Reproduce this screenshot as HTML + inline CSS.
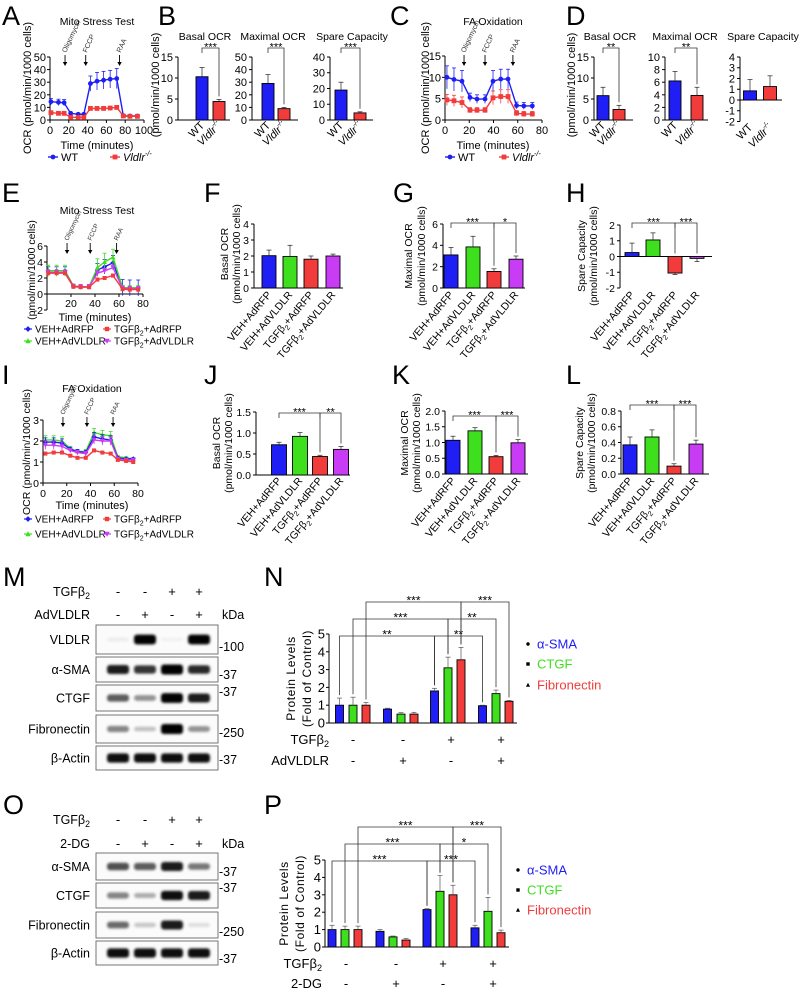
<!DOCTYPE html>
<html><head><meta charset="utf-8"><style>
body{margin:0;background:#fff}
svg{display:block;font-family:"Liberation Sans",Arial,sans-serif}
</style></head><body>
<svg id="fig" width="800" height="991" viewBox="0 0 800 991" xmlns="http://www.w3.org/2000/svg">
<defs><filter id="blur" x="-30%" y="-60%" width="160%" height="220%"><feGaussianBlur stdDeviation="1.4"/></filter></defs>
<rect x="0" y="0" width="800" height="991" fill="#fff"/>
</svg>
<script>
// ---------- DATA ----------
const aTimes=[1,9,15,22,30,36,43,50,57,64,71,78,85,93];
const aWT=[14.5,14,13.7,5.3,4.5,4.5,28.9,30.8,31.6,32.4,32.9,3.4,3.2,3.2];
const aWTErr=[2.5,2.5,2.5,1,1,1,6,7,7,7,8,1,1,1];
const aKO=[5.8,5.3,5.3,2.1,2.1,2.1,9.2,9.2,9.2,9.5,10,3.2,2.9,2.9];
const aKOErr=[0.8,0.5,0.5,0.4,0.4,0.4,0.8,0.8,0.8,0.8,1,0.5,0.5,0.5];
const aInject=[16,38,74];
const injNames=['Oligomycin','FCCP','RAA'];
const cTimes=[1.6,7.4,14,20.6,26.4,33,39.6,46,52,59,65,72];
const cWT=[10,9.5,9.1,5.3,4.9,4.9,9.1,9.6,9.6,3.4,3.3,3.3];
const cWTErr=[2.7,2.7,2.5,1,1,1,2.5,2.3,2.3,0.8,0.8,0.8];
const cKO=[4.7,4.5,4.1,2.3,2.3,2.3,5.2,5.5,5.5,1.6,1.4,1.4];
const cKOErr=[1.3,1.3,1.3,0.6,0.6,0.6,1.6,1.6,1.6,0.6,0.6,0.6];
const cInject=[15.7,33,56];
const eTimes=[1,8,15,22,28,35,42,48,55,63,69,76];
const eVehRFP=[2.9,2.9,2.9,1.0,0.9,0.9,3.0,3.4,3.9,0.8,0.75,0.75];
const eVehVLDLR=[2.9,2.9,2.9,1.0,0.9,0.9,3.3,4.0,4.6,0.8,0.75,0.75];
const eTgfRFP=[2.6,2.6,2.6,0.9,0.85,0.85,1.8,2.0,2.3,0.6,0.55,0.55];
const eTgfVLDLR=[2.7,2.7,2.7,0.95,0.9,0.9,2.6,2.9,3.3,0.7,0.65,0.65];
const eErrBlue=[0.5,0.5,0.5,0.2,0.2,0.2,0.8,0.9,0.9,1.0,1.0,1.0];
const eErrGreen=[0.7,0.7,0.7,0.2,0.2,0.2,1.1,1.1,1.0,0.3,0.3,0.3];
const eInject=[16.7,36,58];
const iTimes=[2,9,16,23,29,36,43,50,57,63,70,76];
const iVehRFP=[1.95,1.95,1.9,1.6,1.5,1.45,2.2,2.1,2.05,1.2,1.15,1.15];
const iVehVLDLR=[2.05,2.05,2.0,1.65,1.5,1.5,2.4,2.3,2.25,1.25,1.2,1.15];
const iTgfRFP=[1.4,1.45,1.45,1.3,1.2,1.2,1.55,1.45,1.4,1.1,1.05,1.0];
const iTgfVLDLR=[1.8,1.8,1.75,1.55,1.45,1.4,2.05,2.0,2.0,1.15,1.1,1.1];
const iErr=[0.2,0.2,0.2,0.1,0.1,0.1,0.2,0.2,0.2,0.05,0.05,0.05];
const iInject=[16.8,37,59];
const bBasal=[10.3,4.4], bBasalErr=[2.2,0.5];
const bMax=[29,9], bMaxErr=[7,1];
const bSpare=[19,4.5], bSpareErr=[5,0.7];
const dBasal=[5.8,2.5], dBasalErr=[2,1];
const dMax=[6.2,3.9], dMaxErr=[1.5,1.3];
const dSpare=[0.85,1.25], dSpareErr=[1.05,1.0];
const fVals=[2.02,1.97,1.8,2.0], fErr=[0.35,0.7,0.2,0.12];
const gVals=[3.1,3.85,1.55,2.7], gErr=[0.7,1.0,0.25,0.3];
const hVals=[0.25,1.05,-1.05,-0.12], hErr=[0.6,0.45,0.1,0.2];
const jVals=[0.72,0.92,0.44,0.61], jErr=[0.06,0.09,0.03,0.07];
const kVals=[1.07,1.37,0.55,0.99], kErr=[0.13,0.1,0.04,0.1];
const lVals=[0.37,0.47,0.1,0.38], lErr=[0.1,0.09,0.03,0.05];
const nSMA=[1.0,0.78,1.8,0.97], nSMAErr=[0.4,0.05,0.15,0.03];
const nCTGF=[1.0,0.5,3.1,1.65], nCTGFErr=[0.45,0.08,0.6,0.2];
const nFN=[1.0,0.5,3.55,1.22], nFNErr=[0.15,0.1,0.7,0.05];
const pSMA=[1.0,0.9,2.15,1.1], pSMAErr=[0.25,0.1,0.05,0.15];
const pCTGF=[1.0,0.58,3.2,2.05], pCTGFErr=[0.2,0.05,0.9,0.8];
const pFN=[1.0,0.4,3.0,0.82], pFNErr=[0.2,0.08,0.55,0.15];
const mVLDLR=[0.06,0.95,0.04,0.95], mSMA=[0.85,0.75,1.0,0.8], mCTGF=[0.6,0.4,0.95,0.85], mFN=[0.45,0.22,1.0,0.4], mActin=[0.9,0.9,0.9,0.9];
const oSMA=[0.65,0.6,0.85,0.5], oCTGF=[0.45,0.3,0.9,0.85], oFN=[0.55,0.2,0.85,0.12], oActin=[0.9,0.9,0.9,0.9];
const nTgf=['-','-','+','+'], nAdv=['-','+','-','+'], pDG=['-','+','-','+'];

// ---------- HELPERS ----------
const NS='http://www.w3.org/2000/svg';
const fig=document.getElementById('fig');
const BLUE='#1e1ef5', RED='#f23c3c', GREEN='#3ee01e', PURPLE='#c93cf5';
function mk(tag,p){const e=document.createElementNS(NS,tag);(p||fig).appendChild(e);return e;}
function set(e,o){for(const k in o)e.setAttribute(k,o[k]);return e;}
function group(name){const g=mk('g');
 
 
 return g;}
function ln(p,x1,y1,x2,y2,name,w,col){const e=set(mk('line',p),{x1:x1,y1:y1,x2:x2,y2:y2,stroke:col||'#000','stroke-width':w||1});
 
 
 return e;}
function rect(p,x,y,w,h,fill,name,stroke){const e=set(mk('rect',p),{x:x,y:y,width:w,height:h,fill:fill,stroke:stroke||'none','stroke-width':0.9});
 
 
 return e;}
function tx(p,x,y,s,size,anchor,name,rot){const e=set(mk('text',p),{x:x,y:y,'font-size':size,'text-anchor':anchor||'middle',fill:'#000'});
 e.innerHTML=s;
 if(rot)e.setAttribute('transform','rotate('+rot+' '+x+' '+y+')');
 
 
 return e;}
function marker(p,type,x,y,col,s,name){let e;
 if(type==='circle')e=set(mk('circle',p),{cx:x,cy:y,r:s,fill:col});
 else if(type==='square')e=set(mk('rect',p),{x:x-s,y:y-s,width:2*s,height:2*s,fill:col});
 else if(type==='diamond')e=set(mk('polygon',p),{points:x+','+(y-s*1.3)+' '+(x+s*1.3)+','+y+' '+x+','+(y+s*1.3)+' '+(x-s*1.3)+','+y,fill:col});
 else if(type==='tri')e=set(mk('polygon',p),{points:x+','+(y-s*1.3)+' '+(x+s*1.2)+','+(y+s)+' '+(x-s*1.2)+','+(y+s),fill:col});
 else e=set(mk('polygon',p),{points:x+','+(y+s*1.3)+' '+(x+s*1.2)+','+(y-s)+' '+(x-s*1.2)+','+(y-s),fill:col});
 
 
 return e;}
function bracket(p,x1,x2,y,b1,b2,stars,size){const e=set(mk('path',p),{d:'M'+x1+' '+b1+'V'+y+'H'+x2+'V'+b2,fill:'none',stroke:'#333','stroke-width':0.8});
 
 
 tx(p,(x1+x2)/2,y+2.5,stars,size||11,'middle','significance-stars');}
const T2='TGFβ<tspan font-size="70%" dy="3">2</tspan>';
const KOlab='<tspan font-style="italic">Vldlr</tspan><tspan font-style="italic" font-size="65%" dy="-5">-/-</tspan>';
const cats4=['VEH+AdRFP','VEH+AdVLDLR',T2+'<tspan dy="-3">+AdRFP</tspan>',T2+'<tspan dy="-3">+AdVLDLR</tspan>'];
const col4=[BLUE,GREEN,RED,PURPLE];

function barChart(c){
 const g=group(c.name);
 const Y=v=>c.yA+(v-c.vA)*(c.yB-c.yA)/(c.vB-c.vA);
 const bot=c.ticks[0], top=c.ticks[c.ticks.length-1];
 ln(g,c.ax,Y(bot),c.ax,Y(top),'y-axis-line');
 c.ticks.forEach(t=>{ln(g,c.ax-3,Y(t),c.ax,Y(t),'y-tick');
  tx(g,c.ax-5,Y(t)+c.ts*0.36,t.toFixed(c.dec),c.ts,'end','y-tick-label');});
 const base=Y(Math.max(bot,0));
 ln(g,c.ax,base,c.xEnd,base,'x-axis-line');
 c.vals.forEach((v,i)=>{
  const x=c.centers[i], y0=Y(0), y1=Y(v);
  rect(g,x-c.bw/2,Math.min(y0,y1),c.bw,Math.max(Math.abs(y1-y0),0.5),c.colors[i],'bar-'+i,'#000');
  const ye=Y(v+(v<0?-1:1)*c.errs[i]);
  ln(g,x,y1,x,ye,'error-bar',0.7,'#222');
  ln(g,x-2.5,ye,x+2.5,ye,'error-cap',0.7,'#222');
 });
 c.cats.forEach((s,i)=>{tx(g,c.centers[i]+3,c.catY,s,c.cs,'end','category-label',c.ang);});
 const legTop=i=>{const v=c.vals[i];return Y(v>0?v+c.errs[i]:0)-3;};
 (c.sig||[]).forEach(s=>bracket(g,c.centers[s[0]],c.centers[s[1]],s[2],Math.min(legTop(s[0]),s[2]+5),legTop(s[1]),s[3]));
 return g;
}
function lineChart(c){
 const g=group(c.name);
 const X=t=>c.x0+t*(c.x1-c.x0)/c.tMax;
 const Y=v=>c.yA+(v-c.vA)*(c.yB-c.yA)/(c.vB-c.vA);
 const yt=c.yTicks;
 ln(g,c.x0,Y(yt[0]),c.x0,Y(yt[yt.length-1]),'y-axis-line');
 yt.forEach(t=>{ln(g,c.x0-3,Y(t),c.x0,Y(t),'y-tick');
  tx(g,c.x0-4,Y(t)+c.ts*0.36,String(t),c.ts,'end','y-tick-label');});
 const xa=Y(c.xAxisV);
 ln(g,c.x0,xa,c.x1,xa,'x-axis-line');
 c.xTicks.forEach(t=>{ln(g,X(t),xa,X(t),xa+3,'x-tick');
  tx(g,X(t),c.xLabelY,String(t),c.ts,'middle','x-tick-label');});
 c.series.forEach(s=>{
  const sg=group('series-'+s.key);
  s.vals.forEach((v,i)=>{const x=X(c.times[i]);
   ln(sg,x,Y(v+s.errs[i]),x,Y(v-s.errs[i]),'error-bar',0.8,s.color);
   ln(sg,x-2,Y(v+s.errs[i]),x+2,Y(v+s.errs[i]),'error-cap',0.8,s.color);});
  const pl=set(mk('polyline',sg),{points:s.vals.map((v,i)=>X(c.times[i])+','+Y(v)).join(' '),fill:'none',stroke:s.color,'stroke-width':1.4});
  
  
  s.vals.forEach((v,i)=>marker(sg,s.mk,X(c.times[i]),Y(v),s.color,c.ms,'point-'+s.key));
 });
 c.inject.forEach((t,i)=>{const x=X(t);
  ln(g,x,c.aTop,x,c.aBot-3,'injection-arrow',0.9);
  const h=set(mk('polygon',g),{points:(x-2.2)+','+(c.aBot-4)+' '+(x+2.2)+','+(c.aBot-4)+' '+x+','+c.aBot,fill:'#000'});
  
  
  const lab=tx(g,x+1,c.aTop-2,injNames[i],c.as,'start','injection-label',-65);
  lab.setAttribute('fill','#333');});
 return g;
}
function grouped(c){
 const g=group(c.name);
 const Y=v=>c.yA+v*(c.yB-c.yA)/5;
 ln(g,c.ax,Y(0),c.ax,Y(5),'y-axis-line');
 [0,1,2,3,4,5].forEach(t=>{ln(g,c.ax-3,Y(t),c.ax,Y(t),'y-tick');
  tx(g,c.ax-4,Y(t)+4.5,String(t),13,'end','y-tick-label');});
 ln(g,c.ax,Y(0),c.xEnd,Y(0),'x-axis-line');
 const pos=(s,k)=>c.gc[k]+c.off[s];
 const tops=[];
 c.series.forEach((ser,s)=>{tops.push([]);ser.vals.forEach((v,k)=>{
  const x=pos(s,k);
  rect(g,x-c.bw/2,Y(v),c.bw,Y(0)-Y(v),ser.color,'bar-'+ser.key+'-'+k,'#000');
  const ye=Y(v+ser.errs[k]);
  ln(g,x,Y(v),x,ye,'error-bar',0.7,'#555');
  ln(g,x-2.5,ye,x+2.5,ye,'error-cap',0.7,'#555');
  tops[s].push(ye-3);});});
 c.sig.forEach(b=>bracket(g,pos(b[0],b[1]),pos(b[0],b[2]),b[3],tops[b[0]][b[1]],tops[b[0]][b[2]],b[4],12));
 c.series.forEach((ser,s)=>{const y=c.legY[s];
  marker(g,['circle','square','tri'][s],c.legX,y,'#000',1.7,'legend-marker-'+ser.key);
  const t=tx(g,c.legX+9,y+4.5,ser.label,13,'start','legend-label-'+ser.key);
  t.setAttribute('fill',ser.color);});
 tx(g,c.ylx1,(Y(0)+Y(5))/2,'Protein Levels',12,'middle','y-axis-title',-90).setAttribute('letter-spacing','0.6');
 tx(g,c.ylx2,(Y(0)+Y(5))/2,'(Fold of Control)',12,'middle','y-axis-title',-90).setAttribute('letter-spacing','0.6');
 tx(g,c.labR,c.row1,T2,13,'end','row-label-tgfb2');
 tx(g,c.labR,c.row2,c.row2Label,13,'end','row-label-treatment');
 c.r1.forEach((s,k)=>tx(g,c.signX[k],c.row1,s,13,'middle','condition-sign'));
 c.r2.forEach((s,k)=>tx(g,c.signX[k],c.row2,s,13,'middle','condition-sign'));
 return g;
}
function blotPanel(name,rows,lanes,box,header){
 const g=group(name);
 rows.forEach(r=>{
  rect(g,box[0],r.y,box[1]-box[0],r.h,'#fbfbfb','blot-'+r.key,'#666');
  r.ints.forEach((v,i)=>{const h=3+7*v;
   const b=set(mk('rect',g),{x:lanes[i]-11,y:r.y+r.h/2-h/2,width:22,height:h,rx:3,fill:'#000','fill-opacity':Math.min(1,v*1.05),filter:'url(#blur)'});
   
   });
  tx(g,90,r.y+r.h/2+4.5,r.label,12.5,'end','blot-label');
 });
 header.forEach(hd=>{tx(g,90,hd.y,hd.label,12.5,'end','treatment-label');
  hd.signs.forEach((s,i)=>tx(g,lanes[i],hd.y,s,13,'middle','treatment-sign'));});
 return g;
}
function letter(ch,x,y){tx(fig,x,y,ch,27,'start','panel-label-'+ch.toLowerCase());}

// ---------- PANEL LETTERS ----------
[['A',2,25],['B',158,25],['C',390,25],['D',566,25],['E',2,202],['F',204,202],['G',393,202],['H',566,202],
 ['I',2,384],['J',204,384],['K',392,384],['L',566,384],['M',3,586],['N',264,586],['O',3,814],['P',264,814]].forEach(l=>letter(l[0],l[1],l[2]));

// ---------- A ----------
lineChart({name:'chart-a-mito-stress',x0:50,x1:144,tMax:100,yA:120,yB:57,vA:0,vB:50,yTicks:[0,10,20,30,40,50],xTicks:[0,20,40,60,80,100],
 xAxisV:0,xLabelY:134,ts:11,times:aTimes,ms:2.4,inject:aInject,aTop:55,aBot:66,as:7,
 series:[{key:'wt',vals:aWT,errs:aWTErr,color:BLUE,mk:'circle'},{key:'vldlr-ko',vals:aKO,errs:aKOErr,color:RED,mk:'square'}]});
tx(fig,97,25,'Mito Stress Test',10.5,'middle','chart-title');
tx(fig,31,88,'OCR (pmol/min/1000 cells)',11,'middle','y-axis-title',-90);
tx(fig,97,149,'Time (minutes)',11,'middle','x-axis-title');
function legendAC(x1,x2){const g=group('legend');
 ln(g,x1-5,157,x1+5,157,'legend-line',1.4,BLUE);marker(g,'circle',x1,157,BLUE,2.4,'legend-marker');
 tx(g,x1+8,161,'WT',11,'start','legend-label');
 ln(g,x2-5,157,x2+5,157,'legend-line',1.4,RED);marker(g,'square',x2,157,RED,2.4,'legend-marker');
 tx(g,x2+8,161,KOlab,11,'start','legend-label');}
legendAC(53,115);

// ---------- B ----------
const wtCats=['WT',KOlab];
barChart({name:'chart-b-basal',ax:178,yA:120,yB:57,vA:0,vB:15,ticks:[0,5,10,15],dec:0,ts:11,centers:[202,219],bw:12,xEnd:230,vals:bBasal,errs:bBasalErr,colors:[BLUE,RED],cats:wtCats,catY:126,cs:11,ang:-45,sig:[[0,1,48,'***']]});
barChart({name:'chart-b-maximal',ax:252,yA:120,yB:57,vA:0,vB:50,ticks:[0,10,20,30,40,50],dec:0,ts:11,centers:[268,284],bw:12,xEnd:298,vals:bMax,errs:bMaxErr,colors:[BLUE,RED],cats:wtCats,catY:126,cs:11,ang:-45,sig:[[0,1,48,'***']]});
barChart({name:'chart-b-spare',ax:330,yA:120,yB:57,vA:0,vB:40,ticks:[0,10,20,30,40],dec:0,ts:11,centers:[341,360],bw:12,xEnd:373,vals:bSpare,errs:bSpareErr,colors:[BLUE,RED],cats:wtCats,catY:126,cs:11,ang:-45,sig:[[0,1,48,'***']]});
tx(fig,205,40,'Basal OCR',10.5,'middle','chart-title');
tx(fig,273,40,'Maximal OCR',10.5,'middle','chart-title');
tx(fig,352,40,'Spare Capacity',10.5,'middle','chart-title');
tx(fig,159,85,'(pmol/min/1000 cells)',11,'middle','y-axis-title',-90);

// ---------- C ----------
lineChart({name:'chart-c-fa-oxidation',x0:445,x1:542,tMax:80,yA:120,yB:56,vA:0,vB:15,yTicks:[0,5,10,15],xTicks:[0,20,40,60,80],
 xAxisV:0,xLabelY:134,ts:11,times:cTimes,ms:2.4,inject:cInject,aTop:55,aBot:66,as:7,
 series:[{key:'wt',vals:cWT,errs:cWTErr,color:BLUE,mk:'circle'},{key:'vldlr-ko',vals:cKO,errs:cKOErr,color:RED,mk:'square'}]});
tx(fig,493,25,'FA Oxidation',10.5,'middle','chart-title');
tx(fig,429,88,'OCR (pmol/min/1000 cells)',11,'middle','y-axis-title',-90);
tx(fig,493,149,'Time (minutes)',11,'middle','x-axis-title');
legendAC(450,504);

// ---------- D ----------
barChart({name:'chart-d-basal',ax:594,yA:120,yB:57,vA:0,vB:15,ticks:[0,5,10,15],dec:0,ts:11,centers:[603,619],bw:12,xEnd:633,vals:dBasal,errs:dBasalErr,colors:[BLUE,RED],cats:wtCats,catY:126,cs:11,ang:-45,sig:[[0,1,48,'**']]});
barChart({name:'chart-d-maximal',ax:665,yA:120,yB:57,vA:0,vB:10,ticks:[0,2,4,6,8,10],dec:0,ts:11,centers:[675,697],bw:12,xEnd:708,vals:dMax,errs:dMaxErr,colors:[BLUE,RED],cats:wtCats,catY:126,cs:11,ang:-45,sig:[[0,1,48,'**']]});
barChart({name:'chart-d-spare',ax:740,yA:121.5,yB:57,vA:-2,vB:4,ticks:[-2,-1,0,1,2,3,4],dec:0,ts:11,centers:[750,770],bw:13,xEnd:782,vals:dSpare,errs:dSpareErr,colors:[BLUE,RED],cats:wtCats,catY:128,cs:11,ang:-45});
tx(fig,610,40,'Basal OCR',10.5,'middle','chart-title');
tx(fig,685,40,'Maximal OCR',10.5,'middle','chart-title');
tx(fig,763,40,'Spare Capacity',10.5,'middle','chart-title');
tx(fig,575,85,'(pmol/min/1000 cells)',11,'middle','y-axis-title',-90);

// ---------- E ----------
function legend4(y1,y2){const g=group('legend-treatments');
 const it=[[28,y1,BLUE,'diamond','VEH+AdRFP'],[107,y1,RED,'square',T2+'<tspan dy="-3">+AdRFP</tspan>'],[28,y2,GREEN,'tri','VEH+AdVLDLR'],[107,y2,PURPLE,'tridown',T2+'<tspan dy="-3">+AdVLDLR</tspan>']];
 it.forEach(a=>{ln(g,a[0]-4,a[1],a[0]+4,a[1],'legend-line',1.2,a[2]);marker(g,a[3],a[0],a[1],a[2],2.2,'legend-marker');
  tx(g,a[0]+7,a[1]+3.5,a[4],10,'start','legend-label');});}
lineChart({name:'chart-e-mito-stress',x0:47,x1:143,tMax:80,yA:310,yB:246,vA:-2,vB:6,yTicks:[-2,0,2,4,6],xTicks:[20,40,60,80],
 xAxisV:0,xLabelY:307,ts:10.5,times:eTimes,ms:2,inject:eInject,aTop:243,aBot:254,as:6.5,
 series:[{key:'veh-adrfp',vals:eVehRFP,errs:eErrBlue,color:BLUE,mk:'diamond'},{key:'veh-advldlr',vals:eVehVLDLR,errs:eErrGreen,color:GREEN,mk:'tri'},
  {key:'tgfb2-advldlr',vals:eTgfVLDLR,errs:eErrBlue.map(()=>0.3),color:PURPLE,mk:'tridown'},{key:'tgfb2-adrfp',vals:eTgfRFP,errs:eErrBlue.map(()=>0.2),color:RED,mk:'square'}]});
tx(fig,97,214,'Mito Stress Test',10.5,'middle','chart-title');
tx(fig,35,270,'(pmol/min/1000 cells)',10.5,'middle','y-axis-title',-90);
tx(fig,95,321,'Time (minutes)',11,'middle','x-axis-title');
legend4(329,341);

// ---------- F G H ----------
barChart({name:'chart-f-basal',ax:254,yA:288,yB:224,vA:0,vB:4,ticks:[0,1,2,3,4],dec:0,ts:10.5,centers:[269,290,311,333],bw:14,xEnd:343,vals:fVals,errs:fErr,colors:col4,cats:cats4,catY:295,cs:10.5,ang:-50});
tx(fig,228,254,'Basal OCR',10.5,'middle','y-axis-title',-90);
tx(fig,240,254,'(pmol/min/1000 cells)',10.5,'middle','y-axis-title',-90);
barChart({name:'chart-g-maximal',ax:443,yA:288,yB:224,vA:0,vB:6,ticks:[0,2,4,6],dec:0,ts:10.5,centers:[451,473,494,516],bw:14,xEnd:525,vals:gVals,errs:gErr,colors:col4,cats:cats4,catY:295,cs:10.5,ang:-50,sig:[[0,2,223,'***'],[2,3,223,'*']]});
tx(fig,412,256,'Maximal OCR',10.5,'middle','y-axis-title',-90);
tx(fig,425,256,'(pmol/min/1000 cells)',10.5,'middle','y-axis-title',-90);
barChart({name:'chart-h-spare',ax:620,yA:288,yB:225,vA:-2,vB:2,ticks:[-2,-1,0,1,2],dec:0,ts:10.5,centers:[632,653,675,697],bw:14,xEnd:712,vals:hVals,errs:hErr,colors:col4,cats:cats4,catY:295,cs:10.5,ang:-50,sig:[[0,2,223,'***'],[2,3,223,'***']]});
tx(fig,585,256,'Spare Capacity',10.5,'middle','y-axis-title',-90);
tx(fig,597,256,'(pmol/min/1000 cells)',10.5,'middle','y-axis-title',-90);

// ---------- I ----------
lineChart({name:'chart-i-fa-oxidation',x0:43,x1:138,tMax:80,yA:483,yB:420,vA:0,vB:3,yTicks:[0,1,2,3],xTicks:[0,20,40,60,80],
 xAxisV:0,xLabelY:497,ts:10.5,times:iTimes,ms:2,inject:iInject,aTop:417,aBot:427,as:6.5,
 series:[{key:'veh-advldlr',vals:iVehVLDLR,errs:iErr,color:GREEN,mk:'tri'},{key:'veh-adrfp',vals:iVehRFP,errs:iErr,color:BLUE,mk:'diamond'},
  {key:'tgfb2-advldlr',vals:iTgfVLDLR,errs:iErr,color:PURPLE,mk:'tridown'},{key:'tgfb2-adrfp',vals:iTgfRFP,errs:iErr.map(()=>0.04),color:RED,mk:'square'}]});
tx(fig,92,392,'FA Oxidation',10.5,'middle','chart-title');
tx(fig,30,452,'OCR (pmol/min/1000 cells)',10.5,'middle','y-axis-title',-90);
tx(fig,92,509,'Time (minutes)',11,'middle','x-axis-title');
legend4(519,534);

// ---------- J K L ----------
barChart({name:'chart-j-basal',ax:256,yA:475,yB:412,vA:0,vB:1.5,ticks:[0,0.5,1,1.5],dec:1,ts:10.5,centers:[279,300,320,341],bw:15,xEnd:350,vals:jVals,errs:jErr,colors:col4,cats:cats4,catY:481,cs:10.5,ang:-50,sig:[[0,2,413,'***'],[2,3,413,'**']]});
tx(fig,220,443,'Basal OCR',10.5,'middle','y-axis-title',-90);
tx(fig,232,443,'(pmol/min/1000 cells)',10.5,'middle','y-axis-title',-90);
barChart({name:'chart-k-maximal',ax:445,yA:474,yB:411,vA:0,vB:2,ticks:[0,0.5,1,1.5,2],dec:1,ts:10.5,centers:[453,475,496,518],bw:14,xEnd:528,vals:kVals,errs:kErr,colors:col4,cats:cats4,catY:481,cs:10.5,ang:-50,sig:[[0,2,416,'***'],[2,3,416,'***']]});
tx(fig,408,443,'Maximal OCR',10.5,'middle','y-axis-title',-90);
tx(fig,420,443,'(pmol/min/1000 cells)',10.5,'middle','y-axis-title',-90);
barChart({name:'chart-l-spare',ax:621,yA:474,yB:411,vA:0,vB:0.8,ticks:[0,0.2,0.4,0.6,0.8],dec:1,ts:10.5,centers:[630,652,674,696],bw:14,xEnd:709,vals:lVals,errs:lErr,colors:col4,cats:cats4,catY:481,cs:10.5,ang:-50,sig:[[0,2,405,'***'],[2,3,405,'***']]});
tx(fig,583,443,'Spare Capacity',10.5,'middle','y-axis-title',-90);
tx(fig,595,443,'(pmol/min/1000 cells)',10.5,'middle','y-axis-title',-90);

// ---------- M ----------
const lanes=[118,145,172,199];
blotPanel('western-blot-m',[
 {key:'vldlr',label:'VLDLR',y:625,h:29,ints:mVLDLR},
 {key:'a-sma',label:'α-SMA',y:657,h:25,ints:mSMA},
 {key:'ctgf',label:'CTGF',y:685,h:26,ints:mCTGF},
 {key:'fibronectin',label:'Fibronectin',y:715,h:28,ints:mFN},
 {key:'b-actin',label:'β-Actin',y:746,h:24,ints:mActin}],lanes,[96,218],
 [{label:T2,y:596,signs:nTgf},{label:'AdVLDLR',y:619,signs:nAdv}]);
tx(fig,222,619,'kDa',12.5,'start','kda-label');
[['-100',651],['-37',679],['-37',696],['-250',737],['-37',764]].forEach(k=>tx(fig,219,k[1],k[0],12.5,'start','kda-marker'));

// ---------- N ----------
grouped({name:'chart-n-protein-levels',ax:329,yA:723,yB:634,xEnd:517,gc:[353,401,448,496],off:[-13.5,0,13],bw:8,
 series:[{key:'a-sma',label:'α-SMA',vals:nSMA,errs:nSMAErr,color:BLUE},{key:'ctgf',label:'CTGF',vals:nCTGF,errs:nCTGFErr,color:GREEN},{key:'fibronectin',label:'Fibronectin',vals:nFN,errs:nFNErr,color:RED}],
 sig:[[0,0,2,636,'**'],[0,2,3,636,'**'],[1,0,2,619,'***'],[1,2,3,619,'**'],[2,0,2,602,'***'],[2,2,3,602,'***']],
 legX:528,legY:[644,664,685],ylx1:295,ylx2:311,labR:329,row1:744,row2:765,row2Label:'AdVLDLR',r1:nTgf,r2:nAdv,signX:[353,403,451,501]});

// ---------- O ----------
blotPanel('western-blot-o',[
 {key:'a-sma',label:'α-SMA',y:853,h:27,ints:oSMA},
 {key:'ctgf',label:'CTGF',y:883,h:25,ints:oCTGF},
 {key:'fibronectin',label:'Fibronectin',y:912,h:26,ints:oFN},
 {key:'b-actin',label:'β-Actin',y:941,h:24,ints:oActin}],lanes,[96,218],
 [{label:T2,y:824,signs:nTgf},{label:'2-DG',y:848,signs:pDG}]);
tx(fig,222,848,'kDa',12.5,'start','kda-label');
[['-37',876],['-37',892],['-250',936],['-37',963]].forEach(k=>tx(fig,219,k[1],k[0],12.5,'start','kda-marker'));

// ---------- P ----------
grouped({name:'chart-p-protein-levels',ax:325,yA:947,yB:860,xEnd:509,gc:[345,393,440,488],off:[-13,0,13],bw:8,
 series:[{key:'a-sma',label:'α-SMA',vals:pSMA,errs:pSMAErr,color:BLUE},{key:'ctgf',label:'CTGF',vals:pCTGF,errs:pCTGFErr,color:GREEN},{key:'fibronectin',label:'Fibronectin',vals:pFN,errs:pFNErr,color:RED}],
 sig:[[0,0,2,861,'***'],[0,2,3,861,'***'],[1,0,2,844,'***'],[1,2,3,844,'*'],[2,0,2,827,'***'],[2,2,3,827,'***']],
 legX:518,legY:[870,890,910],ylx1:288,ylx2:304,labR:322,row1:968,row2:988,row2Label:'2-DG',r1:nTgf,r2:pDG,signX:[346,396,443,493]});
</script>
</body></html>
